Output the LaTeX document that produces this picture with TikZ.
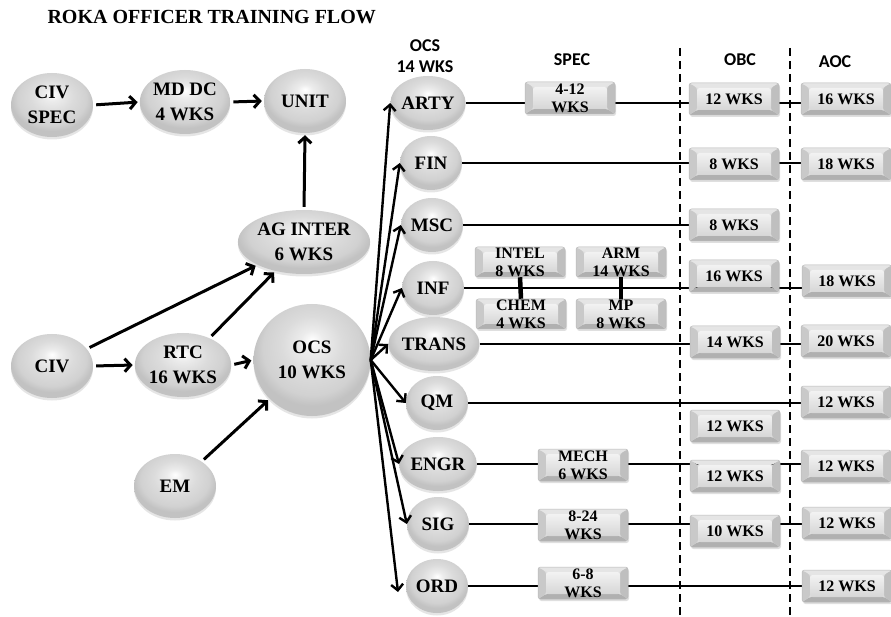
\documentclass[tikz,border=0pt]{standalone}
\usepackage{fontspec}
\setmainfont{Liberation Serif}
\newfontfamily\hdrfont{Carlito}
\usetikzlibrary{arrows.meta,shapes.geometric,shadows,backgrounds}

\pgfdeclareradialshading{sphere}{\pgfpoint{0bp}{9bp}}{%
  color(0bp)=(white); color(5bp)=(white!85!gray); color(13bp)=(gray!28);
  color(21bp)=(gray!36); color(25bp)=(gray!48); color(50bp)=(gray!48)}

\newcommand\ballfont{\fontsize{19}{25}\selectfont\bfseries}
\newcommand\bxfont{\fontsize{16}{18}\selectfont\bfseries}
\newcommand\mybevel{%
  \fill[white!80!gray] (path picture bounding box.north west) -- (path picture bounding box.north east)
     -- ([shift={(-8pt,-5pt)}]path picture bounding box.north east) -- ([shift={(8pt,-5pt)}]path picture bounding box.north west) -- cycle;
  \fill[gray!62] (path picture bounding box.south west) -- (path picture bounding box.south east)
     -- ([shift={(-8pt,5pt)}]path picture bounding box.south east) -- ([shift={(8pt,5pt)}]path picture bounding box.south west) -- cycle;
  \fill[gray!42] (path picture bounding box.north west) -- ([shift={(8pt,-5pt)}]path picture bounding box.north west)
     -- ([shift={(8pt,5pt)}]path picture bounding box.south west) -- (path picture bounding box.south west) -- cycle;
  \fill[gray!50] (path picture bounding box.north east) -- ([shift={(-8pt,-5pt)}]path picture bounding box.north east)
     -- ([shift={(-8pt,5pt)}]path picture bounding box.south east) -- (path picture bounding box.south east) -- cycle;
  \shade[top color=gray!10, bottom color=gray!32] ([shift={(8pt,-5pt)}]path picture bounding box.north west)
     rectangle ([shift={(-8pt,5pt)}]path picture bounding box.south east);
}

\tikzset{
  ball/.style={ellipse, shading=sphere, inner sep=0pt, align=center, font=\ballfont, text=black,
    drop shadow={opacity=0.2, shadow xshift=0pt, shadow yshift=-2.5pt}},
  bigball/.style={ball, minimum width=82pt, minimum height=64pt},
  smallball/.style={ball, minimum width=62pt, minimum height=54pt},
  bx/.style={draw=gray!55, line width=0.5pt, rounded corners=2.5pt, minimum width=90pt, minimum height=32pt,
    inner sep=0pt, align=center, font=\bxfont, text=black, path picture={\mybevel},
    drop shadow={opacity=0.25, shadow xshift=1pt, shadow yshift=-2pt}},
  hdr/.style={font=\hdrfont\fontsize{18}{21}\selectfont\bfseries, align=center, text=black},
  arr/.style={line width=3pt, -{Straight Barb[length=6pt,width=13pt]}, shorten <=3pt, shorten >=2pt},
  fan/.style={line width=2.4pt, -{Straight Barb[length=6pt,width=12pt]}},
  rowline/.style={line width=2.6pt},
  divider/.style={line width=2pt, dash pattern=on 8pt off 5pt},
  link/.style={line width=4.5pt}
}

\begin{document}
\begin{tikzpicture}[x=1pt, y=-1pt]
\begin{scope}[on background layer]
  \fill[white] (0,0) rectangle (891,617);
\end{scope}
\useasboundingbox (0,0) rectangle (891,617);

% title
\node[anchor=west, font=\fontsize{20}{22}\selectfont\bfseries] (title) at (44,17) {ROKA OFFICER TRAINING FLOW};

% left network
\node[bigball] (civspec) at (52,105) {CIV\\SPEC};
\node[bigball] (mddc) at (185,102) {MD DC\\4 WKS};
\node[bigball] (unit) at (305,101) {UNIT};
\node[bigball] (aginter) at (304,242) {AG INTER\\6 WKS};
\node[bigball] (civ) at (52,366) {CIV};
\node[bigball] (rtc) at (183,365) {RTC\\16 WKS};
\node[ball, minimum width=117pt, minimum height=112pt] (ocs) at (312,360) {OCS\\10 WKS};
\node[bigball] (em) at (175,486) {EM};

\draw[arr] (civspec.east) -- (mddc.west);
\draw[arr] (mddc.east) -- (unit.west);
\draw[arr] (aginter.north) -- (unit.south);
\draw[arr] (civ) -- (aginter);
\draw[arr] (rtc) -- (aginter);
\draw[arr] (civ.east) -- (rtc.west);
\draw[arr] (rtc.east) -- (ocs.west);
\draw[arr] (em) -- (ocs);

% headers
\node[hdr] (hocs) at (425,56) {OCS\\14 WKS};
\node[hdr] (hspec) at (572,60) {SPEC};
\node[hdr] (hobc) at (740,60) {OBC};
\node[hdr] (haoc) at (835,62) {AOC};

% branch circles
\node[smallball] (arty) at (428,103) {ARTY};
\node[smallball] (fin) at (431,163) {FIN};
\node[smallball] (msc) at (432,225) {MSC};
\node[smallball] (inf) at (433,288) {INF};
\node[smallball] (trans) at (434,344) {TRANS};
\node[smallball] (qm) at (437,403) {QM};
\node[smallball] (engr) at (438,464) {ENGR};
\node[smallball] (sig) at (438,524) {SIG};
\node[smallball] (ord) at (437,586) {ORD};

\coordinate (ordtip) at (398,592);
\foreach \b in {arty,fin,msc,inf,trans,qm,engr,sig}{
  \draw[fan] (ocs.east) -- (\b.west);
}
\draw[fan] (ocs.east) -- (ordtip);

% boxes
\node[bx] (sarty) at (570,98) {4-12\\WKS};
\node[bx] (oarty) at (734,99) {12 WKS};
\node[bx] (aarty) at (846,99) {16 WKS};

\node[bx] (ofin) at (734,164) {8 WKS};
\node[bx] (afin) at (846,164) {18 WKS};

\node[bx] (omsc) at (734,225) {8 WKS};

\node[bx, minimum height=30pt] (intel) at (520,262) {INTEL\\8 WKS};
\node[bx, minimum height=30pt] (arm) at (621,262) {ARM\\14 WKS};
\node[bx, minimum height=30pt] (chem) at (521,314) {CHEM\\4 WKS};
\node[bx, minimum height=30pt] (mp) at (621,314) {MP\\8 WKS};
\node[bx] (oinf) at (734,276) {16 WKS};
\node[bx] (ainf) at (847,281) {18 WKS};

\node[bx] (otrans) at (735,342) {14 WKS};
\node[bx] (atrans) at (846,341) {20 WKS};

\node[bx] (aqm) at (846,402) {12 WKS};
\node[bx] (oextra) at (735,426) {12 WKS};

\node[bx] (sengr) at (583,465) {MECH\\6 WKS};
\node[bx] (oengr) at (735,476) {12 WKS};
\node[bx] (aengr) at (846,466) {12 WKS};

\node[bx] (ssig) at (583,525) {8-24\\WKS};
\node[bx] (osig) at (735,531) {10 WKS};
\node[bx] (asig) at (847,523) {12 WKS};

\node[bx] (sord) at (583,583) {6-8\\WKS};
\node[bx] (aord) at (847,586) {12 WKS};

\draw[link] (intel.south) -- (chem.north);
\draw[link] (arm.south) -- (mp.north);

% dashed dividers
\coordinate (d1top) at (680,48);
\coordinate (d1bot) at (680,617);
\coordinate (d2top) at (790,48);
\coordinate (d2bot) at (790,617);

\begin{scope}[on background layer]
  \draw[divider] (d1top) -- (d1bot);
  \draw[divider] (d2top) -- (d2bot);
  \draw[rowline] (arty.east) -- (arty.east -| aarty.center);
  \draw[rowline] (fin.east) -- (fin.east -| afin.center);
  \draw[rowline] (msc.east) -- (msc.east -| omsc.center);
  \draw[rowline] (inf.east) -- (inf.east -| ainf.center);
  \draw[rowline] (trans.east) -- (trans.east -| atrans.center);
  \draw[rowline] (qm.east) -- (qm.east -| aqm.center);
  \draw[rowline] (engr.east) -- (engr.east -| aengr.center);
  \draw[rowline] (sig.east) -- (sig.east -| asig.center);
  \draw[rowline] (ord.east) -- (ord.east -| aord.center);
\end{scope}
\end{tikzpicture}
\end{document}
